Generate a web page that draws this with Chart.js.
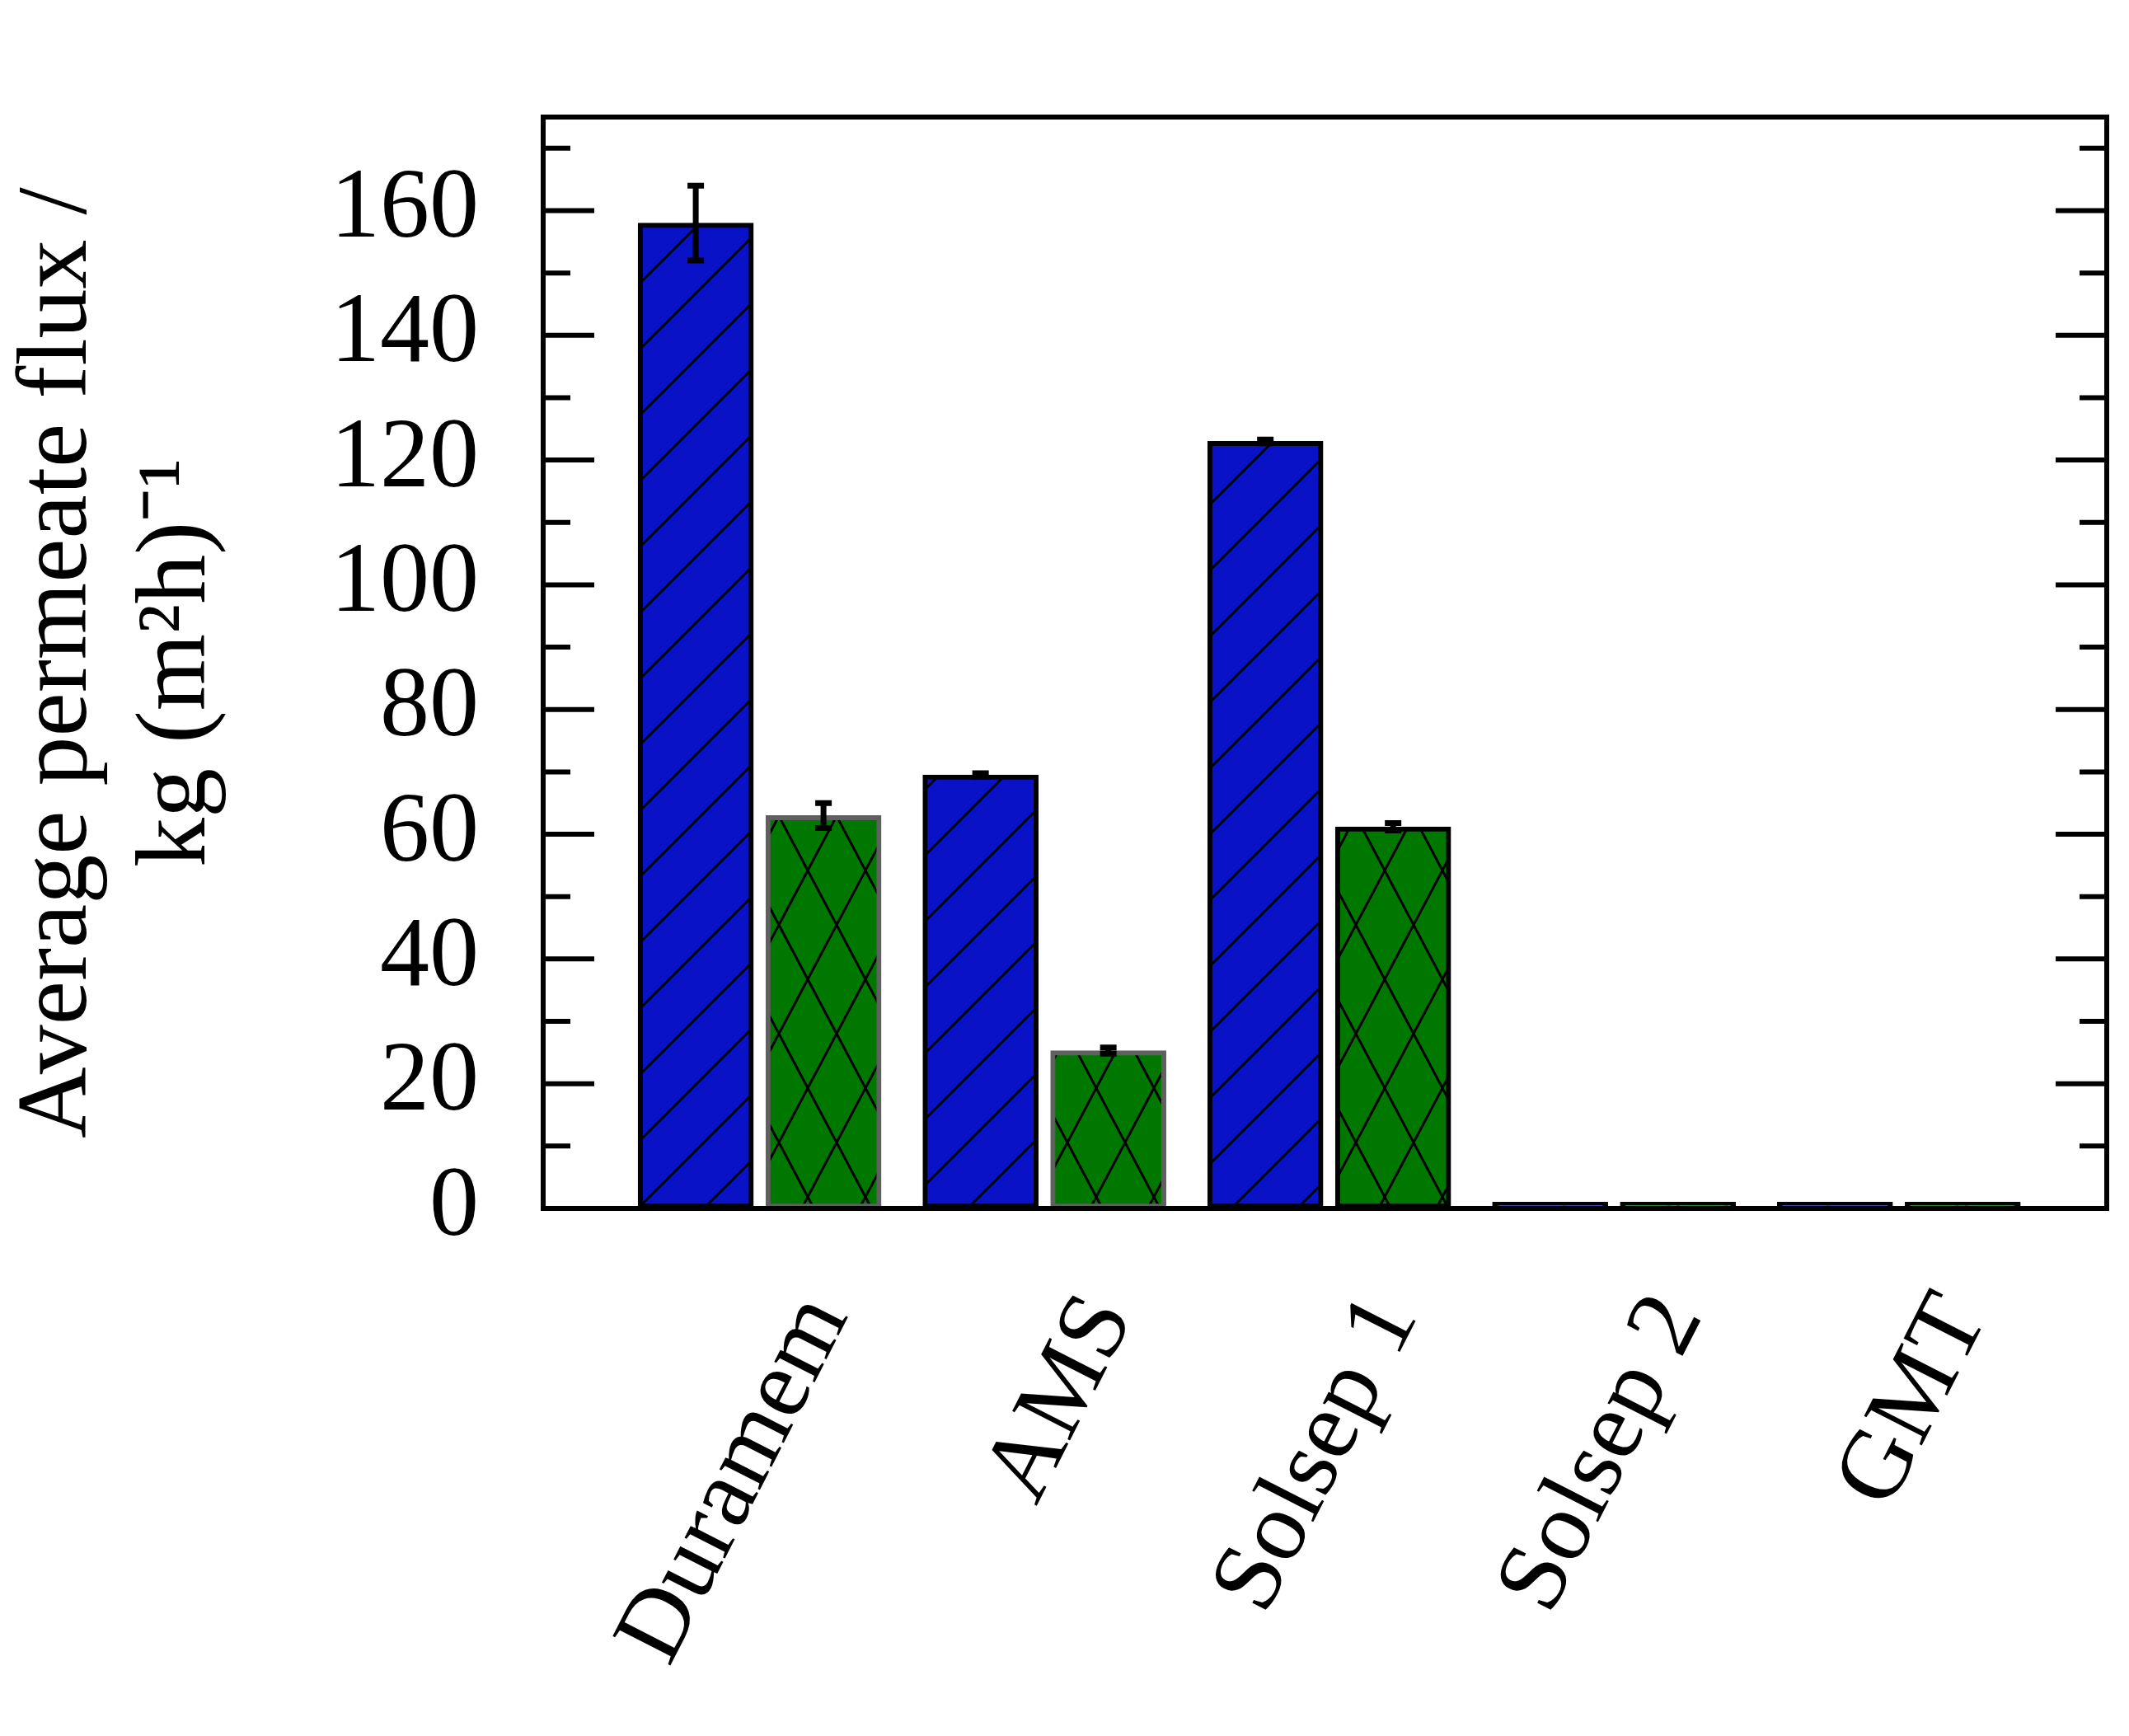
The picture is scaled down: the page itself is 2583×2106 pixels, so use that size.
<!DOCTYPE html>
<html><head><meta charset="utf-8">
<script src="https://cdn.jsdelivr.net/npm/chart.js@4/dist/chart.umd.min.js"></script>
<style>body{margin:0;background:#fff}</style>
</head><body>
<canvas id="chart" width="2583" height="2106"></canvas>
<script>
const membranes = ['Duramem', 'AMS', 'Solsep 1', 'Solsep 2', 'GMT'];
const fluxA = [158, 69.5, 123, 1.0, 1.0];
const errA = [6, 0.3, 0.3, 0, 0];
const fluxB = [63, 25.3, 61.2, 1.0, 1.0];
const errB = [2, 0.5, 0.6, 0, 0];
const bordersB = ['#606060', '#606060', '#000000', '#000000', '#000000'];

function hatch(bg, cross) {
  const c = document.createElement('canvas');
  const w = cross ? 140 : 80, h = cross ? 264 : 80;
  c.width = w; c.height = h;
  const g = c.getContext('2d');
  g.fillStyle = bg; g.fillRect(0, 0, w, h);
  g.strokeStyle = '#000'; g.lineWidth = 3;
  g.beginPath();
  if (cross) {
    g.moveTo(0, 0); g.lineTo(w, h);
    g.moveTo(w, 0); g.lineTo(0, h);
    g.moveTo(-w / 2, 0); g.lineTo(w / 2, h);
    g.moveTo(w / 2, 0); g.lineTo(w * 1.5, h);
    g.moveTo(w / 2, 0); g.lineTo(-w / 2, h);
    g.moveTo(w * 1.5, 0); g.lineTo(w / 2, h);
  } else {
    g.moveTo(-10, h + 10); g.lineTo(w + 10, -10);
    g.moveTo(-10, 10); g.lineTo(10, -10);
    g.moveTo(w - 10, h + 10); g.lineTo(w + 10, h - 10);
  }
  g.stroke();
  return g.createPattern(c, 'repeat');
}

const errs = [errA, errB];
const framePlugin = {
  id: 'frame',
  afterDatasetsDraw(chart) {
    const ctx = chart.ctx, a = chart.chartArea, y = chart.scales.y;
    ctx.save();
    ctx.strokeStyle = '#000'; ctx.lineWidth = 7;
    chart.data.datasets.forEach((ds, i) => {
      chart.getDatasetMeta(i).data.forEach((bar, j) => {
        const e = errs[i][j];
        if (!e) return;
        const v = ds.data[j].y;
        const y1 = y.getPixelForValue(v - e), y2 = y.getPixelForValue(v + e);
        ctx.beginPath();
        ctx.moveTo(bar.x, y1); ctx.lineTo(bar.x, y2);
        ctx.moveTo(bar.x - 10, y1); ctx.lineTo(bar.x + 10, y1);
        ctx.moveTo(bar.x - 10, y2); ctx.lineTo(bar.x + 10, y2);
        ctx.stroke();
      });
    });
    ctx.lineWidth = 6;
    for (let v = 10; v <= 170; v += 10) {
      const py = y.getPixelForValue(v);
      const len = v % 20 === 0 ? 62 : 33;
      ctx.beginPath();
      ctx.moveTo(a.left, py); ctx.lineTo(a.left + len, py);
      ctx.moveTo(a.right, py); ctx.lineTo(a.right - len, py);
      ctx.stroke();
    }
    ctx.strokeRect(a.left, a.top, a.right - a.left, a.bottom - a.top);
    ctx.restore();
  }
};

const font = { family: 'Liberation Serif', size: 120 };
new Chart(document.getElementById('chart'), {
  type: 'bar',
  data: {
    datasets: [
      { data: membranes.map((m, i) => ({ x: i, y: fluxA[i] })), backgroundColor: hatch('#0a12c8', false),
        borderColor: '#000', borderWidth: 6, borderSkipped: false, barThickness: 155, maxBarThickness: 140 },
      { data: membranes.map((m, i) => ({ x: i, y: fluxB[i] })), backgroundColor: hatch('#007800', true),
        borderColor: bordersB, borderWidth: 6, borderSkipped: false, barThickness: 155, maxBarThickness: 140 }
    ]
  },
  options: {
    responsive: false, animation: false, devicePixelRatio: 1,
    layout: { padding: { top: -94, right: 27, left: 0, bottom: 0 } },
    plugins: { legend: { display: false }, tooltip: { enabled: false } },
    scales: {
      x: {
        type: 'linear', min: -0.76, max: 4.73, offset: false,
        grid: { display: false }, border: { display: false },
        afterBuildTicks: s => { s.ticks = membranes.map((m, i) => ({ value: i })); },
        afterFit: s => { s.height = 640; },
        ticks: { color: '#000', font, minRotation: 63, maxRotation: 63, padding: 75, labelOffset: 80,
          callback: v => membranes[v] }
      },
      y: {
        min: 0, max: 175,
        grid: { display: false }, border: { display: false },
        afterBuildTicks: s => { s.ticks = [0, 20, 40, 60, 80, 100, 120, 140, 160].map(v => ({ value: v })); },
        afterFit: s => { s.width = 659; },
        ticks: { color: '#000', font, padding: 70 },
        title: { display: true, color: '#000', font, padding: 0,
          text: ['Average permeate flux /', 'kg (m²h)⁻¹'] }
      }
    }
  },
  plugins: [framePlugin]
});
</script>
</body></html>
